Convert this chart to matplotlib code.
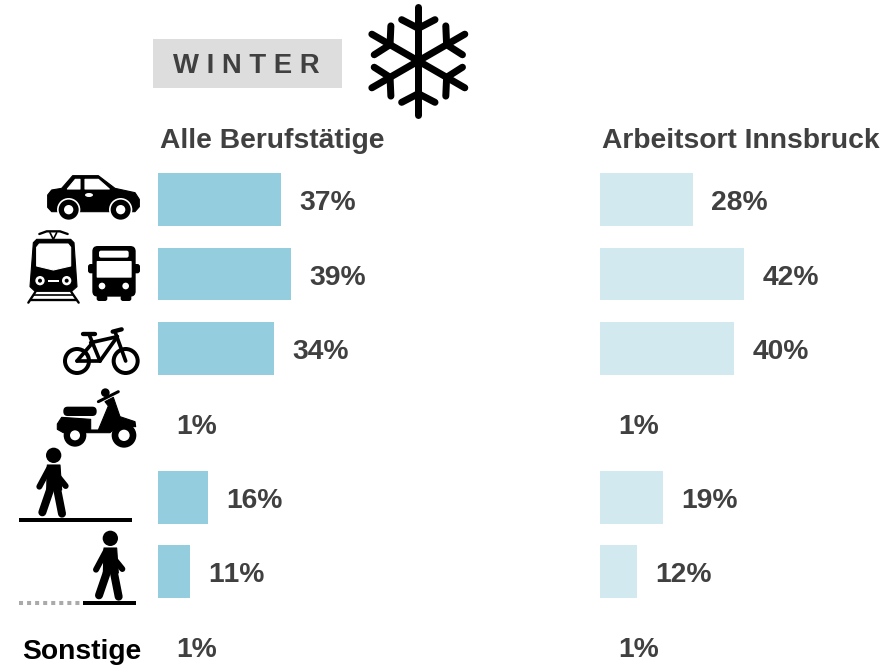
import numpy as np
import matplotlib
matplotlib.use('Agg')
import matplotlib.pyplot as plt
from matplotlib.patches import Circle, Ellipse, FancyBboxPatch, Polygon, Rectangle

plt.rcParams['font.family'] = ['Liberation Sans', 'DejaVu Sans']
plt.rcParams['text.kerning_factor'] = 6

# bar lengths, labels as printed
rows = ['Auto', 'Oeffis', 'Rad', 'Moped', 'zu Fuss', 'teils zu Fuss', 'Sonstige']
alle_bars = [36.6, 39.5, 34.4, 0, 14.8, 9.5, 0]
alle_labels = ['37%', '39%', '34%', '1%', '16%', '11%', '1%']
ibk_bars = [27.5, 42.7, 39.7, 0, 18.6, 10.9, 0]
ibk_labels = ['28%', '42%', '40%', '1%', '19%', '12%', '1%']

W, H = 893, 665
DARK = '#404040'
FS = 20.3

fig = plt.figure(figsize=(W / 100, H / 100), dpi=100)


def bar_axes(x0, bars, labels, color):
    ax = fig.add_axes([x0 / W, (H - 646) / H, 337 / W, (646 - 162.3) / H])
    y = np.arange(len(rows))
    ax.barh(y, bars, height=0.71, color=color)
    ax.set_xlim(0, 100)
    ax.set_ylim(6, -0.5)
    ax.axis('off')
    for i in y:
        ax.annotate(labels[i], (bars[i], i), xytext=(13, -2.7), textcoords='offset points',
                    va='center', ha='left', fontsize=FS, fontweight='bold', color=DARK)


bar_axes(158, alle_bars, alle_labels, '#94CDDD')
bar_axes(600.3, ibk_bars, ibk_labels, '#D3E9F0')

# overlay in pixel coordinates for the title and the icons
ov = fig.add_axes([0, 0, 1, 1])
ov.set_xlim(0, W)
ov.set_ylim(H, 0)
ov.axis('off')
ov.patch.set_alpha(0)

ov.add_patch(Rectangle((153, 39), 189, 49, color='#DDDDDD', lw=0))
ov.text(173, 66, 'W I N T E R', fontsize=19.8, fontweight='bold', color=DARK, va='center', ha='left')
ov.text(160, 141, 'Alle Berufstätige', fontsize=FS, fontweight='bold', color=DARK, va='center')
ov.text(602, 141, 'Arbeitsort Innsbruck', fontsize=FS, fontweight='bold', color=DARK, va='center')
ov.text(141, 652, 'Sonstige', fontsize=FS, fontweight='bold', color='black', va='center', ha='right')


# icon coordinates are taken from 3x crops, so they get divided by 3
def line(pts, w, ox=0, oy=160, color='black', cap='round', zorder=2):
    pts = np.array(pts, dtype=float) / 3 + [ox, oy]
    ov.plot(pts[:, 0], pts[:, 1], color=color, lw=w * 0.24, solid_capstyle=cap,
            solid_joinstyle='round', zorder=zorder)


def poly(pts, ox=0, oy=160, color='black'):
    pts = np.array(pts, dtype=float) / 3 + [ox, oy]
    ov.add_patch(Polygon(pts, closed=True, fc=color, ec=color, lw=0.8, joinstyle='round'))


def circ(x, y, r, ox=0, oy=160, color='black', zorder=3):
    ov.add_patch(Circle((x / 3 + ox, y / 3 + oy), r / 3, fc=color, ec='none', zorder=zorder))


def rbox(x0, y0, x1, y1, r, color='black', ox=0, oy=160, zorder=2):
    ov.add_patch(FancyBboxPatch((x0 / 3 + ox + r / 3, y0 / 3 + oy + r / 3),
                                (x1 - x0 - 2 * r) / 3, (y1 - y0 - 2 * r) / 3,
                                boxstyle='round,pad=%f' % (r / 3), fc=color, ec='none', zorder=zorder))


def snowflake():
    cx, cy = 835, 183
    for a in np.deg2rad(np.arange(0, 360, 60)):
        rot = np.array([[np.cos(a), -np.sin(a)], [np.sin(a), np.cos(a)]])
        arm = np.array([[0, 0], [0, -161]]) @ rot.T + [cx, cy]
        v = np.array([[-50, -124], [0, -98], [50, -124]]) @ rot.T + [cx, cy]
        line(arm, 21, 140, 0)
        line(v, 21, 140, 0)


def car():
    poly([(143, 105), (155, 90), (185, 85), (218, 47), (295, 47), (345, 85), (405, 98), (418, 118),
          (418, 140), (405, 155), (155, 155), (143, 142)])
    poly([(202, 87), (226, 58), (240, 58), (240, 87)], color='white')
    poly([(255, 58), (295, 58), (328, 87), (255, 87)], color='white')
    ov.add_patch(Ellipse((267 / 3, 160 + 105 / 3), 8, 4, fc='white', ec='none'))
    for x in (206, 362):
        circ(x, 149, 35, color='white')
        circ(x, 149, 30, zorder=4)
        circ(x, 149, 14, color='white', zorder=5)


def tram():
    poly([(100, 248), (110, 238), (212, 238), (222, 248), (231, 380), (215, 394), (105, 394), (90, 380)])
    poly([(118, 252), (204, 252), (212, 262), (212, 318), (160, 330), (110, 318), (110, 262)], color='white')
    for x in (120, 200):
        circ(x, 362, 14, color='white')
        circ(x, 362, 6)
    line([(145, 362), (178, 362)], 6, color='white', cap='butt')
    line([(85, 428), (106, 396)], 7)
    line([(236, 428), (214, 396)], 7)
    line([(100, 405), (220, 405)], 5, cap='butt')
    line([(90, 420), (230, 420)], 7, cap='butt')
    line([(118, 222), (140, 214), (180, 214), (203, 222)], 7)
    line([(150, 218), (160, 238), (170, 218)], 5)


def bus():
    rbox(277, 258, 407, 410, 16)
    rbox(264, 312, 284, 340, 8)
    rbox(400, 312, 420, 340, 8)
    rbox(290, 405, 322, 423, 7)
    rbox(362, 405, 394, 423, 7)
    rbox(297, 272, 386, 293, 6, color='white', zorder=3)
    rbox(290, 303, 395, 353, 2, color='white', zorder=3)
    circ(306, 378, 10, color='white')
    circ(377, 378, 10, color='white')


def bike():
    for x in (231, 377):
        circ(x, 603, 42)
        circ(x, 603, 30, color='white', zorder=3.5)
    for pts in ([(231, 603), (300, 603)], [(231, 603), (278, 548)], [(268, 525), (300, 603)],
                [(272, 548), (352, 530)], [(352, 530), (300, 603)], [(345, 515), (377, 603)]):
        line(pts, 11, zorder=4)
    line([(338, 515), (365, 508)], 13, zorder=4)
    line([(250, 521), (286, 521)], 13, zorder=4)


def moped():
    rbox(190, 740, 290, 768, 13)
    poly([(172, 792), (185, 772), (272, 778), (272, 810), (295, 810), (325, 738), (315, 725), (340, 712),
          (360, 770), (405, 785), (407, 800), (355, 798), (330, 818), (190, 818), (172, 808)])
    line([(295, 725), (355, 695)], 9)
    circ(316, 698, 13)
    for x, r, h in ((225, 34, 15), (372, 37, 17)):
        circ(x, 826, r)
        circ(x, 826, h, color='white', zorder=4)


def walker(ox, oy):
    circ(161, 46, 23, ox, oy)
    poly([(142, 75), (180, 75), (185, 150), (140, 150)], ox, oy)
    line([(150, 150), (127, 217)], 24, ox, oy)
    line([(172, 150), (186, 221)], 24, ox, oy)
    line([(148, 84), (118, 140)], 18, ox, oy)
    line([(176, 112), (197, 138)], 18, ox, oy)


snowflake()
car()
tram()
bus()
bike()
moped()
walker(0, 440)
line([(57, 240), (397, 240)], 12, 0, 440, cap='butt')
walker(170 / 3, 440 + 249 / 3)
line([(248, 490), (407, 490)], 12, 0, 440, cap='butt')
dots = np.array([[57, 240], [240, 240]], dtype=float) / 3 + [0, 440 + 250 / 3]
ov.plot(dots[:, 0], dots[:, 1], color='#AAAAAA', lw=2.9, linestyle=(0, (1, 1.0)))

ov.set_xlim(0, W)
ov.set_ylim(H, 0)
fig.savefig('out.png', dpi=100)
